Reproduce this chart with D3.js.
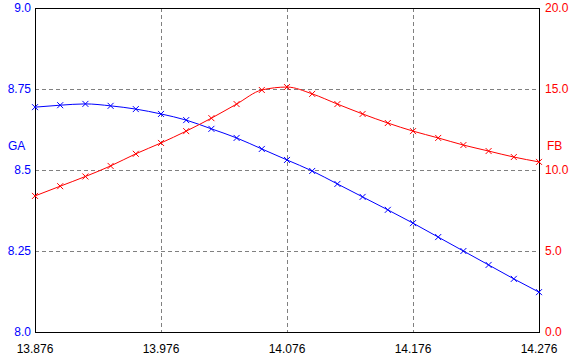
<!DOCTYPE html>
<html>
<head>
<meta charset="utf-8">
<script src="https://cdn.jsdelivr.net/npm/d3@7"></script>
<style>
  body { margin: 0; background: #fff; }
  svg text { font-family: "Liberation Sans", Arial, sans-serif; font-size: 12px; }
</style>
</head>
<body>
<div id="chart"></div>
<script>
// x positions (21 points, step 0.02)
var xValues = [13.876, 13.896, 13.916, 13.936, 13.956, 13.976, 13.996, 14.016, 14.036, 14.056,
               14.076, 14.096, 14.116, 14.136, 14.156, 14.176, 14.196, 14.216, 14.236, 14.256, 14.276];

// GA - left axis (blue)
var gaValues = [8.694, 8.700, 8.704, 8.698, 8.688, 8.673, 8.654, 8.627, 8.599, 8.565,
                8.531, 8.497, 8.457, 8.417, 8.377, 8.336, 8.293, 8.250, 8.207, 8.164, 8.123];

// FB - right axis (red)
var fbValues = [8.4, 9.0, 9.6, 10.25, 11.0, 11.67, 12.4, 13.2, 14.07, 14.94,
                15.12, 14.7, 14.07, 13.46, 12.9, 12.4, 11.98, 11.54, 11.17, 10.8, 10.5];

var xTicks = [13.876, 13.976, 14.076, 14.176, 14.276];
var leftTicks = [8.0, 8.25, 8.5, 8.75, 9.0];
var leftTickLabels = ["8.0", "8.25", "8.5", "8.75", "9.0"];
var rightTicks = [0, 5, 10, 15, 20];
var rightTickLabels = ["0.0", "5.0", "10.0", "15.0", "20.0"];

var margin = { left:35, right:34, top:8, bottom:25 };
var W = 573, H = 357;
var width = W - margin.left - margin.right,
    height = H - margin.top - margin.bottom;

var svg = d3.select("#chart").append("svg")
    .attr("width", W)
    .attr("height", H);

var g = svg.append("g")
    .attr("transform", "translate(" + margin.left + "," + margin.top + ")");

var x = d3.scaleLinear().domain([13.876, 14.276]).range([0, width]);
var yL = d3.scaleLinear().domain([8.0, 9.0]).range([height, 0]);
var yR = d3.scaleLinear().domain([0, 20]).range([height, 0]);

// grid
g.selectAll(".vgrid")
    .data(xTicks.slice(1, -1))
    .enter().append("line")
    .attr("x1", function(d){ return Math.round(x(d)) + 0.5; })
    .attr("x2", function(d){ return Math.round(x(d)) + 0.5; })
    .attr("y1", 0).attr("y2", height)
    .attr("stroke", "#808080")
    .attr("stroke-dasharray", "4,3")
    .attr("shape-rendering", "crispEdges");

g.selectAll(".hgrid")
    .data(leftTicks.slice(1, -1))
    .enter().append("line")
    .attr("y1", function(d){ return Math.round(yL(d)) + 0.5; })
    .attr("y2", function(d){ return Math.round(yL(d)) + 0.5; })
    .attr("x1", 0).attr("x2", width)
    .attr("stroke", "#808080")
    .attr("stroke-dasharray", "4,3")
    .attr("shape-rendering", "crispEdges");

// frame
g.append("rect")
    .attr("x", 0.5).attr("y", 0.5)
    .attr("width", width).attr("height", height)
    .attr("fill", "none")
    .attr("stroke", "#000")
    .attr("shape-rendering", "crispEdges");

// left tick labels
g.selectAll(".ltick")
    .data(leftTicks)
    .enter().append("text")
    .attr("x", -4)
    .attr("y", function(d){ return yL(d); })
    .attr("dy", "0.35em")
    .attr("text-anchor", "end")
    .attr("fill", "#0000ff")
    .text(function(d, i){ return leftTickLabels[i]; });

// right tick labels
g.selectAll(".rtick")
    .data(rightTicks)
    .enter().append("text")
    .attr("x", width + 6)
    .attr("y", function(d){ return yR(d); })
    .attr("dy", "0.35em")
    .attr("text-anchor", "start")
    .attr("fill", "#ff0000")
    .text(function(d, i){ return rightTickLabels[i]; });

// x tick labels
g.selectAll(".xtick")
    .data(xTicks)
    .enter().append("text")
    .attr("x", function(d){ return x(d); })
    .attr("y", height + 21)
    .attr("text-anchor", "middle")
    .attr("fill", "#000")
    .text(function(d){ return d.toFixed(3); });

// axis titles
svg.append("text")
    .attr("x", 8).attr("y", 150)
    .attr("fill", "#0000ff")
    .text("GA");
svg.append("text")
    .attr("x", 547).attr("y", 150)
    .attr("fill", "#ff0000")
    .text("FB");

function drawSeries(values, yScale, color) {
  var data = xValues.map(function(d, i){ return { x: d, y: values[i] }; });
  var line = d3.line()
      .x(function(d){ return x(d.x); })
      .y(function(d){ return yScale(d.y); })
      .curve(d3.curveMonotoneX);
  g.append("path")
      .datum(data)
      .attr("fill", "none")
      .attr("stroke", color)
      .attr("stroke-width", 1)
      .attr("d", line);
  var s = 3;
  var marks = g.append("g");
  marks.selectAll("path")
      .data(data)
      .enter().append("path")
      .attr("d", function(d){
        var cx = x(d.x), cy = yScale(d.y);
        return "M" + (cx - s) + "," + (cy - s) + "L" + (cx + s) + "," + (cy + s) +
               "M" + (cx - s) + "," + (cy + s) + "L" + (cx + s) + "," + (cy - s);
      })
      .attr("stroke", color)
      .attr("stroke-width", 1)
      .attr("fill", "none");
}

drawSeries(gaValues, yL, "#0000ff");
drawSeries(fbValues, yR, "#ff0000");
</script>
</body>
</html>
